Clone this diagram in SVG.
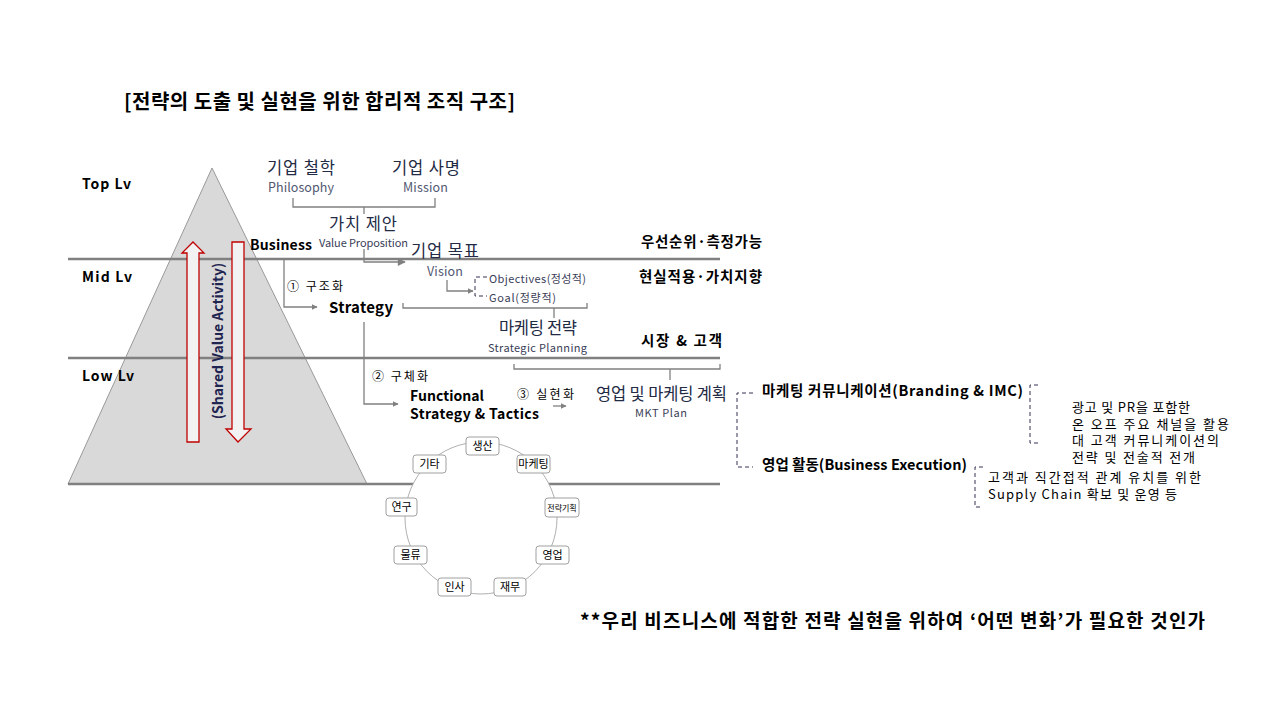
<svg xmlns="http://www.w3.org/2000/svg" width="1280" height="720" viewBox="0 0 1280 720">
<defs>
<style>
text{font-family:"Noto Sans CJK KR","Liberation Sans",sans-serif;}
.b{font-weight:bold;fill:#000;}
.lv{font-size:14px;font-weight:bold;fill:#000;}
.hd{font-size:16.5px;fill:#222a44;}
.sub{font-size:12.5px;fill:#505870;}
.sm{font-size:11px;fill:#3a4058;}
.lvl{stroke:#808080;stroke-width:2.5;fill:none;}
.con{stroke:#808080;stroke-width:1.3;fill:none;}
.dash{stroke:#333355;stroke-width:1;stroke-dasharray:4,3;fill:none;}
.node rect{fill:#fff;stroke:#a0a0a0;stroke-width:1;}
.node text{font-size:11px;fill:#000;text-anchor:middle;}
.sv{fill:#f2f2f2;stroke:#c00000;stroke-width:1.3;}
.p{font-size:13px;fill:#000;}
.rl{font-size:14.5px;font-weight:bold;fill:#000;}
</style>
<marker id="ah" viewBox="0 0 10 10" refX="9" refY="5" markerWidth="6" markerHeight="6" markerUnits="userSpaceOnUse" orient="auto"><path d="M0,0 L10,5 L0,10 z" fill="#808080"/></marker>
<marker id="ahb" viewBox="0 0 10 10" refX="9" refY="5" markerWidth="10" markerHeight="8" markerUnits="userSpaceOnUse" orient="auto"><path d="M0,0 L10,5 L0,10 z" fill="#808080"/></marker>
</defs>
<rect width="1280" height="720" fill="#fff"/>

<text x="124" y="109" class="b" font-size="20" textLength="391" lengthAdjust="spacing">[전략의 도출 및 실현을 위한 합리적 조직 구조]</text>

<g id="pyramid">
<polygon points="212,168 68,484 367,484" fill="#d9d9d9" stroke="#999" stroke-width="1"/>
</g>

<g id="levels">
<line x1="68" y1="259" x2="720" y2="259" class="lvl"/>
<line x1="68" y1="358" x2="720" y2="358" class="lvl"/>
<line x1="68" y1="484" x2="720" y2="484" class="lvl"/>
<text x="82" y="189" class="lv" textLength="49" lengthAdjust="spacing">Top Lv</text>
<text x="82" y="282" class="lv" textLength="50" lengthAdjust="spacing">Mid Lv</text>
<text x="82" y="381" class="lv" textLength="52" lengthAdjust="spacing">Low Lv</text>
</g>

<g id="shared-value">
<polygon points="187,442 187,253 182,253 193,242 204,253 199,253 199,442" class="sv"/>
<polygon points="232,242 244,242 244,429 251,429 238,442 226,429 232,429" class="sv"/>
<text transform="translate(223,341) rotate(-90)" text-anchor="middle" font-size="14" font-weight="bold" fill="#1f2450">(Shared Value Activity)</text>
</g>

<g id="connectors">
<path d="M293,198 V207 H435 V198" class="con"/>
<path d="M364,207 V214" class="con"/>
<path d="M364,249 V262 H405" class="con" stroke-width="2.5" marker-end="url(#ahb)"/>
<path d="M447,280 V291 H473" class="con" marker-end="url(#ah)"/>
<path d="M284,259 V307 H317" class="con" marker-end="url(#ah)"/>
<path d="M403,303 V308 H587 V303" class="con"/>
<path d="M554,308 V318" class="con"/>
<path d="M364,322 V404 H398" class="con" marker-end="url(#ah)"/>
<path d="M514,364 V369 H720 V364" class="con"/>
<path d="M670,369 V380" class="con"/>
<path d="M553,406 H566" class="con" marker-end="url(#ah)"/>
<path d="M487,277 H475 V296 H487" class="dash"/>
<path d="M753,393 H737 V467 H753" class="dash"/>
<path d="M1038,385 H1030 V443 H1038" class="dash"/>
<path d="M983,467 H975 V507 H983" class="dash"/>
</g>

<g id="philosophy"><text x="267" y="174" class="hd" textLength="68" lengthAdjust="spacing">기업 철학</text><text x="268" y="192" class="sub" textLength="66" lengthAdjust="spacing">Philosophy</text></g>
<g id="mission"><text x="392" y="174" class="hd" textLength="68" lengthAdjust="spacing">기업 사명</text><text x="403" y="192" class="sub" textLength="45" lengthAdjust="spacing">Mission</text></g>
<g id="value-proposition"><text x="329" y="230" class="hd" textLength="68" lengthAdjust="spacing">가치 제안</text><text x="319" y="247" class="sm" textLength="89" lengthAdjust="spacing">Value Proposition</text></g>
<g id="business"><text x="250" y="250" class="lv" textLength="62" lengthAdjust="spacing">Business</text></g>
<g id="vision"><text x="411" y="257" class="hd" textLength="68" lengthAdjust="spacing">기업 목표</text><text x="427" y="276" class="sub" textLength="36" lengthAdjust="spacing">Vision</text></g>
<g id="objectives"><text x="489" y="283" class="sm" textLength="97" lengthAdjust="spacing">Objectives(정성적)</text><text x="489" y="302" class="sm" textLength="67" lengthAdjust="spacing">Goal(정량적)</text></g>
<g id="strategy"><text x="329" y="313" font-size="15" class="b" textLength="64" lengthAdjust="spacing">Strategy</text><text x="287" y="291" font-size="12" fill="#000" textLength="56" lengthAdjust="spacing">① 구조화</text></g>
<g id="marketing-strategy"><text x="499" y="334" class="hd" font-size="15" textLength="78" lengthAdjust="spacing">마케팅 전략</text><text x="488" y="352" class="sm" textLength="99" lengthAdjust="spacing">Strategic Planning</text></g>
<g id="functional"><text x="372" y="381" font-size="12" fill="#000" textLength="56" lengthAdjust="spacing">② 구체화</text><text x="410" y="401" class="lv" textLength="74" lengthAdjust="spacing">Functional</text><text x="410" y="419" class="lv" textLength="129" lengthAdjust="spacing">Strategy &amp; Tactics</text></g>
<g id="realize"><text x="517" y="399" font-size="12" fill="#000" textLength="57" lengthAdjust="spacing">③ 실현화</text></g>
<g id="mkt-plan"><text x="596" y="400" class="hd" font-size="15" textLength="131" lengthAdjust="spacing">영업 및 마케팅 계획</text><text x="635" y="417" class="sm" textLength="52" lengthAdjust="spacing">MKT Plan</text></g>

<g id="right-labels">
<text x="641" y="247" class="rl" textLength="121" lengthAdjust="spacing">우선순위·측정가능</text>
<text x="639" y="282" class="rl" textLength="123" lengthAdjust="spacing">현실적용·가치지향</text>
<text x="641" y="346" class="rl" textLength="81" lengthAdjust="spacing">시장 &amp; 고객</text>
</g>

<g id="mkt-comm"><text x="762" y="396" font-size="14.5" class="b" textLength="261" lengthAdjust="spacing">마케팅 커뮤니케이션(Branding &amp; IMC)</text>
<text x="1072" y="412" class="p" textLength="118" lengthAdjust="spacing">광고 및 PR을 포함한</text>
<text x="1072" y="429" class="p" textLength="157" lengthAdjust="spacing">온 오프 주요 채널을 활용</text>
<text x="1072" y="445" class="p" textLength="147" lengthAdjust="spacing">대 고객 커뮤니케이션의</text>
<text x="1072" y="462" class="p" textLength="123" lengthAdjust="spacing">전략 및 전술적 전개</text></g>
<g id="business-exec"><text x="762" y="470" font-size="14.5" class="b" textLength="205" lengthAdjust="spacing">영업 활동(Business Execution)</text>
<text x="988" y="482" class="p" textLength="213" lengthAdjust="spacing">고객과 직간접적 관계 유치를 위한</text>
<text x="988" y="499" class="p" textLength="189" lengthAdjust="spacing">Supply Chain 확보 및 운영 등</text></g>

<g id="functions-ring"><circle cx="481" cy="518" r="76" fill="#fff" stroke="#b0b0b0" stroke-width="1"/></g>
<g id="n-production" class="node"><rect x="466" y="437" width="33" height="18" rx="3"/><text x="482.5" y="450">생산</text></g>
<g id="n-marketing" class="node"><rect x="517" y="455" width="33" height="18" rx="3"/><text x="533.5" y="468">마케팅</text></g>
<g id="n-planning" class="node"><rect x="545" y="498" width="34" height="19" rx="3"/><text x="562" y="511" style="font-size:8px">전략기획</text></g>
<g id="n-sales" class="node"><rect x="536" y="546" width="33" height="18" rx="3"/><text x="552.5" y="559">영업</text></g>
<g id="n-finance" class="node"><rect x="494" y="578" width="32" height="18" rx="3"/><text x="510" y="591">재무</text></g>
<g id="n-hr" class="node"><rect x="438" y="578" width="33" height="18" rx="3"/><text x="454.5" y="591">인사</text></g>
<g id="n-logistics" class="node"><rect x="394" y="546" width="33" height="18" rx="3"/><text x="410.5" y="559">물류</text></g>
<g id="n-rnd" class="node"><rect x="386" y="498" width="31" height="18" rx="3"/><text x="401.5" y="511">연구</text></g>
<g id="n-etc" class="node"><rect x="413" y="455" width="33" height="18" rx="3"/><text x="429.5" y="468">기타</text></g>

<text x="580" y="628" font-size="19" class="b" textLength="625" lengthAdjust="spacing">**우리 비즈니스에 적합한 전략 실현을 위하여 ‘어떤 변화’가 필요한 것인가</text>
</svg>
